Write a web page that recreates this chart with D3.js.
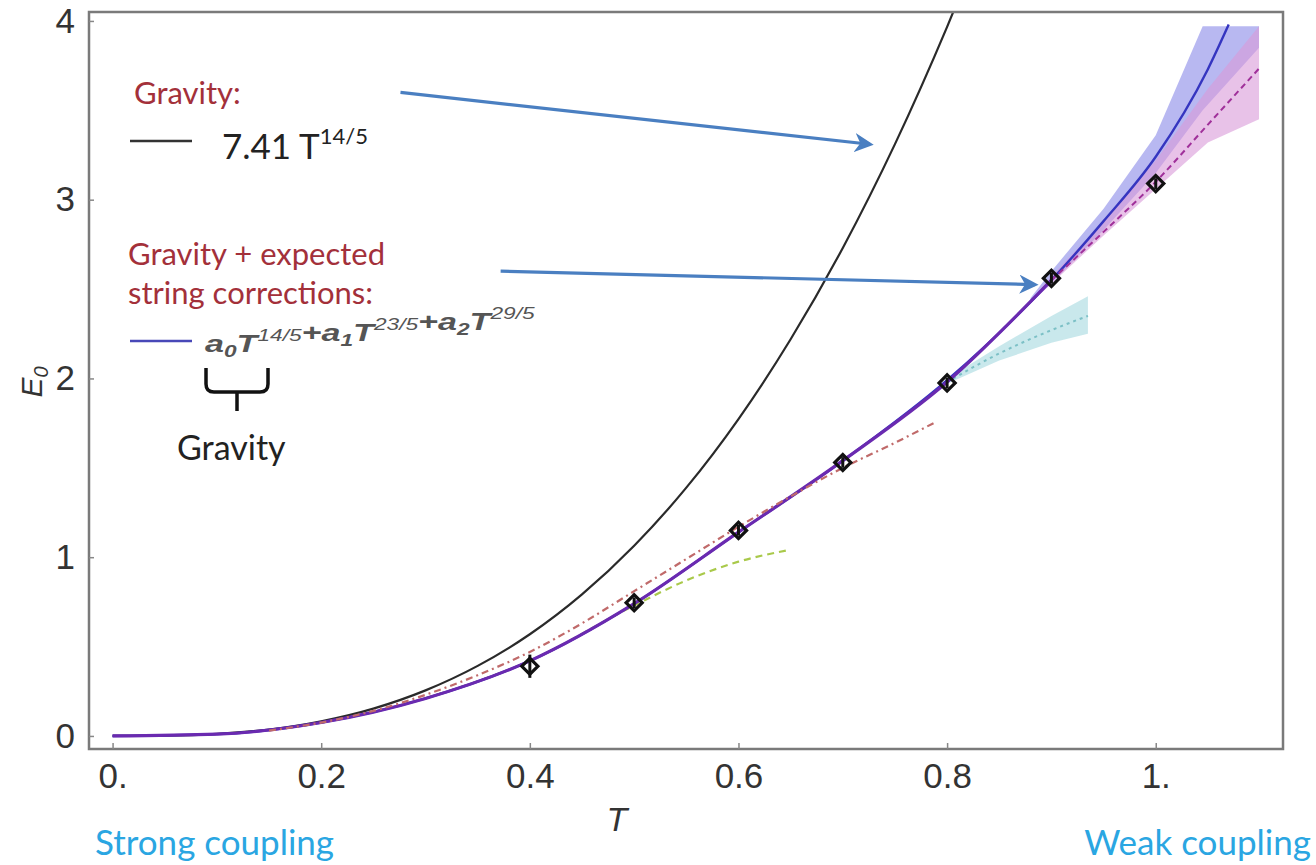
<!DOCTYPE html>
<html>
<head>
<meta charset="utf-8">
<script src="https://cdn.jsdelivr.net/npm/d3@7"></script>
<style>
  body { margin: 0; background: #fff; }
  svg { display: block; }
</style>
</head>
<body>
<svg id="chart" width="1316" height="865"></svg>
<script>
// ---- data ----
const xTicks = [0, 0.2, 0.4, 0.6, 0.8, 1.0];
const xTickLabels = ["0.", "0.2", "0.4", "0.6", "0.8", "1."];
const yTicks = [0, 1, 2, 3, 4];
const yTickLabels = ["0", "1", "2", "3", "4"];

// gravity curve (black)
const gravT = [0, 0.05, 0.1, 0.15, 0.2, 0.25, 0.3, 0.35, 0.4, 0.45, 0.5, 0.55, 0.6, 0.65, 0.7, 0.75, 0.8, 0.82];
const gravE = [0, 0.002, 0.012, 0.036, 0.082, 0.153, 0.255, 0.392, 0.569, 0.792, 1.064, 1.389, 1.773, 2.219, 2.73, 3.311, 3.967, 4.25];

// fit with string corrections (blue solid)
const fitT = [0, 0.1, 0.2, 0.3, 0.4, 0.5, 0.6, 0.7, 0.8, 0.9, 0.95, 1.0, 1.05, 1.07];
const fitE = [0, 0.01, 0.075, 0.21, 0.42, 0.74, 1.14, 1.54, 1.99, 2.55, 2.88, 3.24, 3.73, 3.98];

// second fit (purple, dashed magenta beyond T=0.9)
const fit2T = [0, 0.1, 0.2, 0.3, 0.4, 0.5, 0.6, 0.7, 0.8, 0.9];
const fit2E = [0, 0.01, 0.075, 0.21, 0.42, 0.74, 1.14, 1.54, 1.98, 2.55];
const fit2DashT = [0.9, 0.95, 1.0, 1.05, 1.1];
const fit2DashE = [2.55, 2.82, 3.10, 3.42, 3.74];

// bands
const blueBandT = [0.88, 0.9, 0.95, 1.0, 1.045, 1.099];
const blueBandHi = [2.45, 2.60, 2.95, 3.36, 3.97, 3.97];
const blueBandLo = [2.43, 2.53, 2.83, 3.15, 3.50, 3.85];
const pinkBandT = [0.88, 0.9, 0.95, 1.0, 1.05, 1.099];
const pinkBandHi = [2.44, 2.57, 2.88, 3.22, 3.62, 3.97];
const pinkBandLo = [2.42, 2.53, 2.80, 3.06, 3.32, 3.45];

// cyan dotted with band
const cyanT = [0.8, 0.85, 0.9, 0.935];
const cyanE = [1.98, 2.14, 2.27, 2.35];
const cyanHi = [2.0, 2.18, 2.35, 2.46];
const cyanLo = [1.97, 2.10, 2.20, 2.25];

// red dash-dot
const redT = [0.15, 0.2, 0.25, 0.3, 0.35, 0.4, 0.45, 0.5, 0.55, 0.6, 0.65, 0.7, 0.75, 0.787];
const redE = [0.03, 0.075, 0.14, 0.23, 0.34, 0.47, 0.63, 0.81, 0.99, 1.17, 1.34, 1.50, 1.64, 1.75];

// green dashed
const greenT = [0.3, 0.4, 0.5, 0.55, 0.6, 0.648];
const greenE = [0.21, 0.42, 0.73, 0.87, 0.975, 1.04];

// lattice points with error bars
const ptT = [0.4, 0.5, 0.6, 0.7, 0.8, 0.9, 1.0];
const ptE = [0.39, 0.745, 1.15, 1.53, 1.975, 2.56, 3.09];
const ptErr = [0.065, 0.03, 0.03, 0.03, 0.03, 0.03, 0.03];

// annotation arrows (data coords)
const arrows = [
  { t0: 0.276, e0: 3.60, t1: 0.726, e1: 3.31 },
  { t0: 0.372, e0: 2.60, t1: 0.884, e1: 2.525 }
];

// ---- drawing ----
const svg = d3.select("#chart");
const x = d3.scaleLinear().domain([-0.0226, 1.122]).range([89, 1283]);
const y = d3.scaleLinear().domain([-0.073, 4.05]).range([749, 12]);

const zip = (ts, es) => ts.map((t, i) => ({ t, e: es[i] }));
const line = d3.line().x(d => x(d.t)).y(d => y(d.e)).curve(d3.curveMonotoneX);
const band = d3.area().x(d => x(d.t)).y0(d => y(d.lo)).y1(d => y(d.hi));
const zipBand = (ts, lo, hi) => ts.map((t, i) => ({ t, lo: lo[i], hi: hi[i] }));

svg.append("clipPath").attr("id", "clip")
  .append("rect").attr("x", 89).attr("y", 12).attr("width", 1283 - 89).attr("height", 749 - 12);

const plot = svg.append("g").attr("clip-path", "url(#clip)");

// bands
plot.append("path").attr("d", band(zipBand(blueBandT, blueBandLo, blueBandHi)))
  .attr("fill", "#a6a6ee").attr("opacity", 0.8);
plot.append("path").attr("d", band(zipBand(pinkBandT, pinkBandLo, pinkBandHi)))
  .attr("fill", "#d99ad8").attr("opacity", 0.6);
plot.append("path").attr("d", band(zipBand(cyanT, cyanLo, cyanHi)))
  .attr("fill", "#c3e5ea").attr("opacity", 0.9);

// black gravity curve
plot.append("path").attr("d", line(zip(gravT, gravE)))
  .attr("fill", "none").attr("stroke", "#2a2a2a").attr("stroke-width", 2.2);

// green dashed
plot.append("path").attr("d", line(zip(greenT, greenE)))
  .attr("fill", "none").attr("stroke", "#a9c94a").attr("stroke-width", 2.2)
  .attr("stroke-dasharray", "7,5");

// cyan dotted
plot.append("path").attr("d", line(zip(cyanT, cyanE)))
  .attr("fill", "none").attr("stroke", "#7cc0c6").attr("stroke-width", 2)
  .attr("stroke-dasharray", "3,4");

// fits
plot.append("path").attr("d", line(zip(fitT, fitE)))
  .attr("fill", "none").attr("stroke", "#3535c0").attr("stroke-width", 2.4);
plot.append("path").attr("d", line(zip(fit2T, fit2E)))
  .attr("fill", "none").attr("stroke", "#6a2ab0").attr("stroke-width", 3.2);
plot.append("path").attr("d", line(zip(fit2DashT, fit2DashE)))
  .attr("fill", "none").attr("stroke", "#a0309a").attr("stroke-width", 2)
  .attr("stroke-dasharray", "6,4");

// red dash-dot
plot.append("path").attr("d", line(zip(redT, redE)))
  .attr("fill", "none").attr("stroke", "#c06a6a").attr("stroke-width", 2.2)
  .attr("stroke-dasharray", "7,4,2,4");

// points with error bars
const pts = ptT.map((t, i) => ({ t, e: ptE[i], err: ptErr[i] }));
plot.selectAll("line.err").data(pts).join("line")
  .attr("class", "err")
  .attr("x1", d => x(d.t)).attr("x2", d => x(d.t))
  .attr("y1", d => y(d.e - d.err)).attr("y2", d => y(d.e + d.err))
  .attr("stroke", "#111").attr("stroke-width", 3);
plot.selectAll("path.pt").data(pts).join("path")
  .attr("class", "pt")
  .attr("d", d3.symbol(d3.symbolSquare, 130))
  .attr("transform", d => `translate(${x(d.t)},${y(d.e)}) rotate(45)`)
  .attr("fill", "none").attr("stroke", "#111").attr("stroke-width", 3.2);

// frame
svg.append("rect").attr("x", 89).attr("y", 12).attr("width", 1283 - 89).attr("height", 749 - 12)
  .attr("fill", "none").attr("stroke", "#7a7a7a").attr("stroke-width", 2.5);

// axes
const xAxis = svg.append("g").attr("transform", "translate(0,749)")
  .call(d3.axisBottom(x).tickValues(xTicks).tickFormat((d, i) => xTickLabels[i])
    .tickSizeInner(-6).tickSizeOuter(0).tickPadding(14));
const yAxis = svg.append("g").attr("transform", "translate(89,0)")
  .call(d3.axisLeft(y).tickValues(yTicks).tickFormat((d, i) => yTickLabels[i])
    .tickSizeInner(-5).tickSizeOuter(0).tickPadding(14));
[xAxis, yAxis].forEach(a => {
  a.select(".domain").remove();
  a.selectAll(".tick line").attr("stroke", "#888").attr("stroke-width", 1.5);
  a.selectAll(".tick text").attr("font-family", "Liberation Sans, Arial, sans-serif")
    .attr("font-size", 35).attr("fill", "#333");
});

// axis titles
svg.append("text").attr("x", 617).attr("y", 831).attr("text-anchor", "middle")
  .attr("font-family", "Liberation Sans, Arial, sans-serif").attr("font-style", "italic")
  .attr("font-size", 34).attr("fill", "#333").text("T");
const yl = svg.append("text").attr("transform", "translate(42,382) rotate(-90)")
  .attr("text-anchor", "middle")
  .attr("font-family", "Liberation Sans, Arial, sans-serif").attr("font-style", "italic")
  .attr("font-size", 30).attr("fill", "#333");
yl.append("tspan").text("E");
yl.append("tspan").attr("font-size", 20).attr("dy", 6).text("0");

// coupling labels
const sans = "Lato, 'Open Sans', sans-serif";
svg.append("text").attr("x", 95).attr("y", 855).attr("font-family", sans)
  .attr("font-size", 35).attr("fill", "#2aa6e2").text("Strong  coupling");
svg.append("text").attr("x", 1311).attr("y", 855).attr("text-anchor", "end").attr("font-family", sans)
  .attr("font-size", 35).attr("fill", "#2aa6e2").text("Weak coupling");

// legend / annotations
const red = "#a3303a";
svg.append("text").attr("x", 134).attr("y", 104).attr("font-family", sans)
  .attr("font-size", 31).attr("fill", red).text("Gravity:");
svg.append("line").attr("x1", 130).attr("x2", 192).attr("y1", 141).attr("y2", 141)
  .attr("stroke", "#333").attr("stroke-width", 2.5);
const g1 = svg.append("text").attr("x", 222).attr("y", 159).attr("font-family", sans)
  .attr("font-size", 35).attr("fill", "#222");
g1.append("tspan").text("7.41 T");
g1.append("tspan").attr("font-size", 22).attr("dy", -15).text("14/5");

svg.append("text").attr("x", 128).attr("y", 265).attr("font-family", sans)
  .attr("font-size", 31).attr("fill", red).text("Gravity + expected");
svg.append("text").attr("x", 128).attr("y", 304).attr("font-family", sans)
  .attr("font-size", 31).attr("fill", red).text("string corrections:");
svg.append("line").attr("x1", 130).attr("x2", 192).attr("y1", 341).attr("y2", 341)
  .attr("stroke", "#4848b8").attr("stroke-width", 2.5);

const f = svg.append("text").attr("transform", "translate(205,352) scale(1.42,1)")
  .attr("font-family", "Liberation Sans, Arial, sans-serif").attr("font-style", "italic")
  .attr("font-weight", "bold").attr("font-size", 24).attr("fill", "#555");
const parts = [["a", "0", "14/5", "T"], ["+a", "1", "23/5", "T"], ["+a", "2", "29/5", "T"]];
parts.forEach(([base, sub, sup, tv]) => {
  f.append("tspan").attr("dy", 0).text(base);
  f.append("tspan").attr("font-size", 16).attr("dy", 5).text(sub);
  f.append("tspan").attr("dy", -5).text(tv);
  f.append("tspan").attr("font-size", 16).attr("font-weight", "normal").attr("dy", -11).text(sup);
  f.append("tspan").attr("dy", 11).text("");
});

// brace
svg.append("path")
  .attr("d", "M206,368 L206,384 Q206,392 214,392 L237,392 L237,411 M237,392 L260,392 Q268,392 268,384 L268,368")
  .attr("fill", "none").attr("stroke", "#111").attr("stroke-width", 3.5);
svg.append("text").attr("x", 177).attr("y", 460).attr("font-family", sans)
  .attr("font-size", 34).attr("fill", "#222").text("Gravity");

// arrows
const defs = svg.append("defs");
defs.append("marker").attr("id", "ah").attr("viewBox", "0 0 10 10")
  .attr("refX", 8).attr("refY", 5).attr("markerWidth", 6).attr("markerHeight", 6)
  .attr("markerUnits", "strokeWidth").attr("orient", "auto")
  .append("path").attr("d", "M0,0 L10,5 L0,10 L3,5 Z").attr("fill", "#4a7fc1");
svg.selectAll("line.arrow").data(arrows).join("line")
  .attr("class", "arrow")
  .attr("x1", d => x(d.t0)).attr("y1", d => y(d.e0))
  .attr("x2", d => x(d.t1)).attr("y2", d => y(d.e1))
  .attr("stroke", "#4a7fc1").attr("stroke-width", 3.2)
  .attr("marker-end", "url(#ah)");
</script>
</body>
</html>
